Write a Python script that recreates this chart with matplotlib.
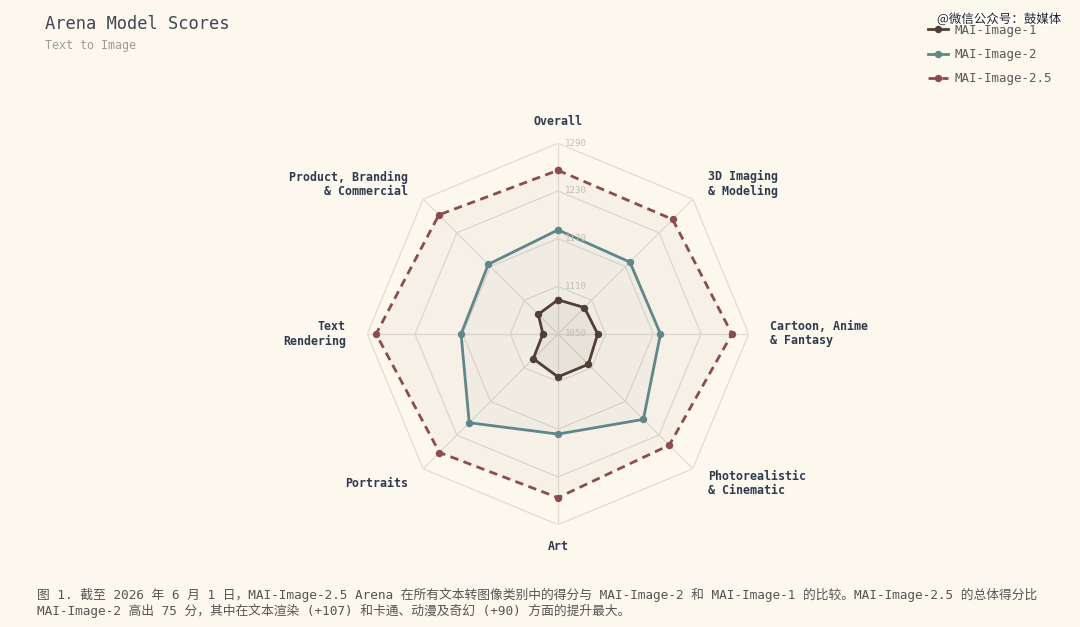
import numpy as np
import matplotlib
matplotlib.use("Agg")
import matplotlib.pyplot as plt
import matplotlib.patheffects as pe

### Data ###

categories = ["Overall", "3D Imaging\n& Modeling", "Cartoon, Anime\n& Fantasy",
              "Photorealistic\n& Cinematic", "Art", "Portraits", "Text\nRendering",
              "Product, Branding\n& Commercial"]
mai_1 = [1093, 1097, 1100, 1104, 1104, 1094, 1069, 1085]
mai_2 = [1181, 1178, 1179, 1202, 1176, 1208, 1172, 1174]
mai_25 = [1256, 1254, 1269, 1248, 1256, 1261, 1279, 1262]
series_names = ["MAI-Image-1", "MAI-Image-2", "MAI-Image-2.5"]
radial_ticks = [1050, 1110, 1170, 1230, 1290]

caption_1 = ("图 1. 截至 2026 年 6 月 1 日，MAI-Image-2.5 Arena 在所有文本转图像类别中的得分与 "
             "MAI-Image-2 和 MAI-Image-1 的比较。MAI-Image-2.5 的总体得分比")
caption_2 = "MAI-Image-2 高出 75 分，其中在文本渲染 (+107) 和卡通、动漫及奇幻 (+90) 方面的提升最大。"

### Style ###

bg = "#fcf8ee"
grid_col = "#e1dcd1"
colors = ["#503e37", "#5f878a", "#8c4b50"]
fill_alpha = [0.05, 0.035, 0.045]
mono = "DejaVu Sans Mono"

fig = plt.figure(figsize=(10.8, 6.27), dpi=100, facecolor=bg)
ax = fig.add_axes([0.3401, 0.1632, 0.3531, 0.6083], projection="polar")
ax.set_facecolor("none")
ax.set_theta_zero_location("N")
ax.set_theta_direction(-1)
ax.set_ylim(radial_ticks[0], radial_ticks[-1])
ax.grid(False)
ax.spines["polar"].set_visible(False)
ax.set_xticks([])
ax.set_yticks([])

n = len(categories)
theta = np.arange(n) * 2 * np.pi / n
theta_c = np.append(theta, theta[0])

# octagon grid + spokes
for t in radial_ticks[1:]:
    ax.plot(theta_c, [t] * (n + 1), color=grid_col, lw=0.9, zorder=1)
for th in theta:
    ax.plot([th, th], [radial_ticks[0], radial_ticks[-1]], color=grid_col, lw=0.9, zorder=1)

# series
for vals, name, col, fa in zip([mai_1, mai_2, mai_25], series_names, colors, fill_alpha):
    v = np.append(vals, vals[0])
    ax.fill(theta_c, v, color=col, alpha=fa, lw=0, zorder=2)
    line, = ax.plot(theta_c, v, color=col, lw=2.0, marker="o", markersize=4.3,
                    label=name, zorder=3)
    if name == "MAI-Image-2.5":
        line.set_dashes((3, 2))

# radial tick labels
for t in radial_ticks:
    ax.annotate(str(t), xy=(0, t), xytext=(5, 0), textcoords="offset points",
                ha="left", va="center", fontsize=6.6, color="#c3beb5",
                family=mono, zorder=4)

# category labels
label_r = 1317
for th, cat in zip(theta, categories):
    s = np.sin(th)
    if abs(s) < 1e-6:
        ha = "center"
    elif s > 0:
        ha = "left"
    else:
        ha = "right"
    ax.text(th, label_r, cat, ha=ha, va="center", multialignment=ha,
            fontsize=8.4, fontweight="bold", color="#2f3a4e", family=mono,
            linespacing=1.1, clip_on=False)

# titles
fig.text(45 / 1080, 1 - 24 / 627, "Arena Model Scores", fontsize=12.3,
         color="#3f4756", family=mono, va="center", ha="left")
fig.text(45 / 1080, 1 - 46 / 627, "Text to Image", fontsize=8.4,
         color="#9c9a96", family=mono, va="center", ha="left")

# legend
leg = fig.legend(loc="upper left", bbox_to_anchor=(0.849, 0.98), frameon=False,
                 handlelength=1.6, handletextpad=0.5,
                 labelspacing=0.9, prop={"family": mono, "size": 9})
for txt in leg.get_texts():
    txt.set_color("#5a5a5a")

# watermark
fig.text(937 / 1080, 1 - 19 / 627, "@微信公众号：鼓媒体", fontsize=9,
         color="#222222", family=["Noto Sans CJK SC", "DejaVu Sans"],
         va="center", ha="left",
         path_effects=[pe.withStroke(linewidth=2.5, foreground="white")])

# caption
cap_font = [mono, "Noto Sans CJK SC"]
fig.text(37 / 1080, 1 - 595 / 627, caption_1, fontsize=9.2, color="#555555",
         family=cap_font, va="center", ha="left")
fig.text(37 / 1080, 1 - 611 / 627, caption_2, fontsize=9.2, color="#555555",
         family=cap_font, va="center", ha="left")

fig.savefig("out.png", dpi=100, facecolor=bg)
